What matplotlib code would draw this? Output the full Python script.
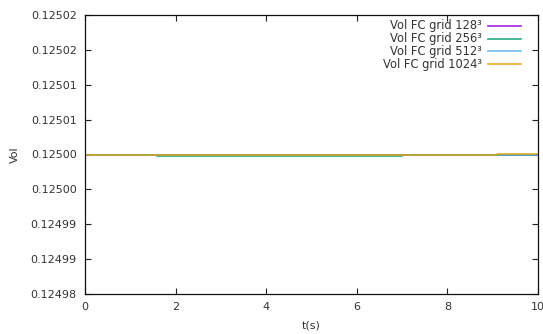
import numpy as np
import matplotlib
matplotlib.use("Agg")
import matplotlib.pyplot as plt

# time points and volumes
t_128 = [0.0, 10.0]
vol_128 = [0.125, 0.125]

t_256 = [0.0, 1.6, 1.6, 7.0, 7.0, 10.0]
vol_256 = [0.125, 0.125, 0.12499985, 0.12499985, 0.125, 0.125]

t_512 = [0.0, 10.0]
vol_512 = [0.125, 0.125]

t_1024 = [0.0, 9.1, 9.1, 10.0]
vol_1024 = [0.125, 0.125, 0.12500012, 0.12500012]

labels = ["Vol FC grid 128³", "Vol FC grid 256³",
          "Vol FC grid 512³", "Vol FC grid 1024³"]
colors = ["#9400d3", "#009e73", "#56b4e9", "#e69f00"]

yticks = [0.12498, 0.124985, 0.12499, 0.124995, 0.125,
          0.125005, 0.12501, 0.125015, 0.12502]
ytick_labels = ["0.12498", "0.12499", "0.12499", "0.12500", "0.12500",
                "0.12501", "0.12501", "0.12502", "0.12502"]

plt.rcParams["font.family"] = "DejaVu Sans"
plt.rcParams["font.size"] = 8

W, H = 543, 334
fig = plt.figure(figsize=(W / 100, H / 100), dpi=100)
ax = fig.add_axes([85 / W, 40 / H, 453 / W, 279 / H])

series = [(t_128, vol_128), (t_256, vol_256), (t_512, vol_512), (t_1024, vol_1024)]
for (t, v), c in zip(series, colors):
    ax.plot(t, v, color=c, lw=1.2, alpha=0.85)

ax.set_xlim(0, 10)
ax.set_ylim(0.12498, 0.12502)
ax.set_xticks([0, 2, 4, 6, 8, 10])
ax.set_yticks(yticks)
ax.set_yticklabels(ytick_labels)
ax.tick_params(direction="in", length=4, width=0.8, top=True, right=True,
               colors="#222222", labelcolor="#333333", pad=6)
for s in ax.spines.values():
    s.set_linewidth(0.9)
    s.set_color("#111111")

ax.set_xlabel("t(s)", color="#333333", labelpad=6)
ax.set_ylabel("Vol", color="#333333", labelpad=8)

# gnuplot-style key: right-aligned text, sample line on the right
for i, (lab, c) in enumerate(zip(labels, colors)):
    yk = 1 - (26 + 12.7 * i) / H
    fig.text(482 / W, yk, lab, ha="right", va="center", fontsize=8.3, color="#333333")
    fig.add_artist(plt.Line2D([488 / W, 521 / W], [yk, yk], transform=fig.transFigure,
                              color=c, lw=1.2, alpha=0.85))

fig.savefig("out.png", dpi=100)
